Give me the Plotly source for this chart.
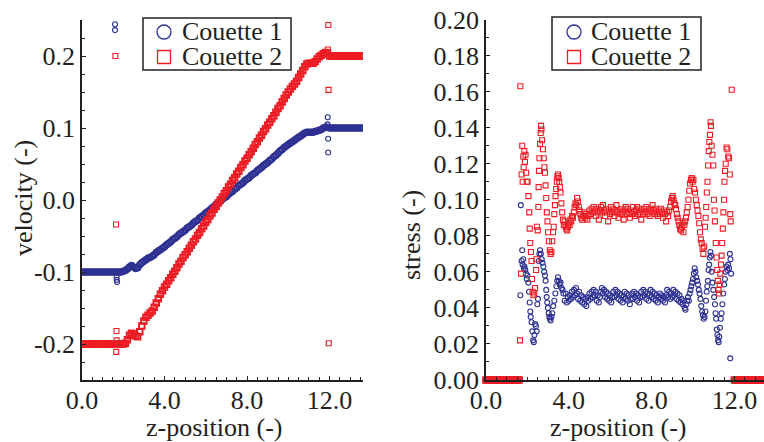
import plotly.graph_objects as go

# ---------------- data ----------------
# left panel: velocity profiles (z-position vs velocity)
z_vel = [0.0, 0.1, 0.2, 0.3, 0.4, 0.5, 0.6, 0.7, 0.8, 0.9,
         1.0, 1.1, 1.2, 1.3, 1.4, 1.5, 1.6, 1.7, 1.8, 1.9,
         2.0, 2.1, 2.2, 2.3, 2.4, 2.5, 2.6, 2.7, 2.8, 2.9,
         3.0, 3.1, 3.2, 3.3, 3.4, 3.5, 3.6, 3.7, 3.8, 3.9,
         4.0, 4.1, 4.2, 4.3, 4.4, 4.5, 4.6, 4.7, 4.8, 4.9,
         5.0, 5.1, 5.2, 5.3, 5.4, 5.5, 5.6, 5.7, 5.8, 5.9,
         6.0, 6.1, 6.2, 6.3, 6.4, 6.5, 6.6, 6.7, 6.8, 6.9,
         7.0, 7.1, 7.2, 7.3, 7.4, 7.5, 7.6, 7.7, 7.8, 7.9,
         8.0, 8.1, 8.2, 8.3, 8.4, 8.5, 8.6, 8.7, 8.8, 8.9,
         9.0, 9.1, 9.2, 9.3, 9.4, 9.5, 9.6, 9.7, 9.8, 9.9,
         10.0, 10.1, 10.2, 10.3, 10.4, 10.5, 10.6, 10.7, 10.8, 10.9,
         11.0, 11.1, 11.2, 11.3, 11.4, 11.5, 11.6, 11.7, 11.8, 11.9,
         12.0, 12.1, 12.2, 12.3, 12.4, 12.5, 12.6, 12.7, 12.8, 12.9,
         13.0, 13.1, 13.2, 13.3, 13.4, 13.5, 13.6]

vel_c1 = [-0.100, -0.100, -0.100, -0.100, -0.100, -0.100, -0.100, -0.100, -0.100, -0.100,
          -0.100, -0.100, -0.100, -0.100, -0.100, -0.100, -0.100, -0.100, -0.100, -0.100,
          -0.099, -0.098, -0.096, -0.093, -0.091, -0.093, -0.095, -0.094, -0.090, -0.087,
          -0.085, -0.083, -0.081, -0.080, -0.078, -0.076, -0.073, -0.071, -0.069, -0.067,
          -0.065, -0.062, -0.060, -0.058, -0.055, -0.053, -0.051, -0.048, -0.046, -0.044,
          -0.042, -0.039, -0.037, -0.035, -0.032, -0.030, -0.028, -0.025, -0.023, -0.021,
          -0.018, -0.016, -0.014, -0.011, -0.009, -0.006, -0.004, -0.002, 0.001, 0.003,
          0.005, 0.008, 0.010, 0.012, 0.015, 0.017, 0.020, 0.022, 0.024, 0.027,
          0.029, 0.031, 0.034, 0.036, 0.038, 0.041, 0.043, 0.045, 0.048, 0.050,
          0.052, 0.055, 0.057, 0.060, 0.062, 0.065, 0.068, 0.070, 0.073, 0.075,
          0.077, 0.079, 0.081, 0.083, 0.085, 0.087, 0.089, 0.091, 0.093, 0.094,
          0.094, 0.094, 0.094, 0.095, 0.096, 0.097, 0.098, 0.100, 0.101, 0.101,
          0.100, 0.100, 0.100, 0.100, 0.100, 0.100, 0.100, 0.100, 0.100, 0.100,
          0.100, 0.100, 0.100, 0.100, 0.100, 0.100, 0.100]

vel_c2 = [-0.200, -0.200, -0.200, -0.200, -0.200, -0.200, -0.200, -0.200, -0.200, -0.200,
          -0.200, -0.200, -0.200, -0.200, -0.200, -0.200, -0.200, -0.200, -0.200, -0.200,
          -0.200, -0.199, -0.194, -0.188, -0.185, -0.186, -0.189, -0.190, -0.183, -0.175,
          -0.168, -0.163, -0.160, -0.157, -0.154, -0.149, -0.143, -0.137, -0.131, -0.126,
          -0.121, -0.117, -0.112, -0.108, -0.103, -0.099, -0.094, -0.089, -0.085, -0.080,
          -0.076, -0.072, -0.067, -0.063, -0.058, -0.054, -0.049, -0.045, -0.040, -0.036,
          -0.031, -0.027, -0.022, -0.018, -0.013, -0.009, -0.004, 0.000, 0.004, 0.009,
          0.013, 0.018, 0.022, 0.027, 0.031, 0.036, 0.040, 0.045, 0.049, 0.054,
          0.058, 0.063, 0.067, 0.072, 0.077, 0.081, 0.086, 0.090, 0.095, 0.099,
          0.104, 0.108, 0.113, 0.117, 0.122, 0.127, 0.131, 0.136, 0.141, 0.146,
          0.150, 0.154, 0.158, 0.161, 0.165, 0.170, 0.175, 0.180, 0.185, 0.189,
          0.190, 0.190, 0.190, 0.192, 0.196, 0.199, 0.201, 0.203, 0.205, 0.204,
          0.200, 0.200, 0.200, 0.200, 0.200, 0.200, 0.200, 0.200, 0.200, 0.200,
          0.200, 0.200, 0.200, 0.200, 0.200, 0.200, 0.200]

# stray interface-bin points on the velocity panel
out_c1_z = [1.60, 1.60, 1.68, 1.68, 1.70, 11.91, 11.90, 11.93, 11.93]
out_c1_v = [0.244, 0.236, -0.107, -0.111, -0.114, 0.115, 0.105, 0.085, 0.066]
out_c2_z = [1.62, 1.65, 1.67, 1.68, 1.66, 11.94, 11.92, 11.95, 11.96]
out_c2_v = [0.200, -0.034, -0.182, -0.195, -0.211, 0.243, 0.209, 0.153, -0.199]

# right panel: stress profiles
wall_z = [0.0, 0.1, 0.2, 0.3, 0.4, 0.5, 0.6, 0.7, 0.8, 0.9, 1.0, 1.1, 1.2, 1.3, 1.4, 1.5, 1.6,
          12.0, 12.1, 12.2, 12.3, 12.4, 12.5, 12.6, 12.7, 12.8, 12.9, 13.0, 13.1, 13.2, 13.3, 13.4, 13.5, 13.6]
wall_s = [0.0, 0.0, 0.0, 0.0, 0.0, 0.0, 0.0, 0.0, 0.0, 0.0, 0.0, 0.0, 0.0, 0.0, 0.0, 0.0, 0.0,
          0.0, 0.0, 0.0, 0.0, 0.0, 0.0, 0.0, 0.0, 0.0, 0.0, 0.0, 0.0, 0.0, 0.0, 0.0, 0.0, 0.0]

str_c1_z = [1.66, 1.68, 1.72, 1.75, 1.77, 1.80, 1.83, 1.86, 1.90, 1.93,
            1.97, 2.00, 2.05, 2.08, 2.11, 2.14, 2.16, 2.20, 2.24, 2.28,
            2.31, 2.34, 2.37, 2.41, 2.45, 2.48, 2.51, 2.55, 2.58, 2.61,
            2.65, 2.69, 2.73, 2.77, 2.81, 2.85, 2.88, 2.91, 2.93, 2.96,
            2.99, 3.03, 3.06, 3.09, 3.12, 3.16, 3.20, 3.25, 3.30, 3.35,
            3.40, 3.44, 3.48, 3.52, 3.56, 3.60, 3.65, 3.70, 3.74,
            3.80, 3.85, 3.90, 3.95, 4.00, 4.05, 4.10, 4.15, 4.20, 4.25,
            4.30, 4.35, 4.40, 4.45, 4.50, 4.55, 4.60, 4.65, 4.70, 4.75,
            4.80, 4.85, 4.90, 4.95, 5.00, 5.05, 5.10, 5.15, 5.20, 5.25,
            5.30, 5.35, 5.40, 5.45, 5.50, 5.55, 5.60, 5.65, 5.70, 5.75,
            5.80, 5.85, 5.90, 5.95, 6.00, 6.05, 6.10, 6.15, 6.20, 6.25,
            6.30, 6.35, 6.40, 6.45, 6.50, 6.55, 6.60, 6.65, 6.70, 6.75,
            6.80, 6.85, 6.90, 6.95, 7.00, 7.05, 7.10, 7.15, 7.20, 7.25,
            7.30, 7.35, 7.40, 7.45, 7.50, 7.55, 7.60, 7.65, 7.70, 7.75,
            7.80, 7.85, 7.90, 7.95, 8.00, 8.05, 8.10, 8.15, 8.20, 8.25,
            8.30, 8.35, 8.40, 8.45, 8.50, 8.55, 8.60, 8.65, 8.70, 8.75,
            8.80, 8.85, 8.90, 8.95, 9.00, 9.05, 9.10, 9.15, 9.20, 9.25,
            9.30, 9.35, 9.40, 9.45, 9.50, 9.55,
            9.60, 9.64, 9.68, 9.72, 9.76, 9.80, 9.84, 9.88, 9.92, 9.96,
            10.00, 10.04, 10.08, 10.12, 10.16, 10.20, 10.24, 10.28, 10.32, 10.36,
            10.40, 10.44, 10.48, 10.52, 10.56, 10.60, 10.63, 10.66, 10.69, 10.72,
            10.75, 10.78, 10.81, 10.84, 10.87, 10.90, 10.94, 10.98, 11.02, 11.06,
            11.09, 11.12, 11.15, 11.18, 11.21, 11.24, 11.27, 11.30, 11.34, 11.38,
            11.42, 11.46, 11.50, 11.54, 11.58, 11.62, 11.66, 11.70, 11.74, 11.78,
            11.81, 11.84, 11.80]
str_c1_s = [0.047, 0.097, 0.066, 0.072, 0.064, 0.067, 0.062, 0.063, 0.061, 0.059,
            0.056, 0.058, 0.054, 0.049, 0.043, 0.038, 0.035, 0.032, 0.027, 0.022,
            0.021, 0.025, 0.031, 0.030, 0.027, 0.042, 0.045, 0.066, 0.070, 0.072,
            0.070, 0.067, 0.065, 0.063, 0.060, 0.058, 0.055, 0.050, 0.046, 0.043,
            0.040, 0.037, 0.035, 0.034, 0.033, 0.035, 0.037, 0.041, 0.044, 0.048,
            0.052, 0.055, 0.057, 0.055, 0.053, 0.054, 0.051, 0.050, 0.048,
            0.044, 0.048, 0.043, 0.046, 0.044, 0.047, 0.045, 0.049, 0.046, 0.050,
            0.047, 0.051, 0.048, 0.045, 0.049, 0.044, 0.047, 0.043, 0.046, 0.042,
            0.045, 0.041, 0.046, 0.044, 0.048, 0.045, 0.049, 0.046, 0.050, 0.047,
            0.049, 0.044, 0.047, 0.043, 0.046, 0.049, 0.051, 0.048, 0.050, 0.046,
            0.049, 0.045, 0.048, 0.044, 0.047, 0.043, 0.046, 0.049, 0.046, 0.050,
            0.047, 0.049, 0.045, 0.048, 0.044, 0.047, 0.043, 0.046, 0.049, 0.045,
            0.048, 0.044, 0.047, 0.042, 0.045, 0.048, 0.045, 0.049, 0.046, 0.048,
            0.044, 0.047, 0.043, 0.046, 0.049, 0.046, 0.050, 0.047, 0.049, 0.045,
            0.048, 0.044, 0.047, 0.050, 0.046, 0.049, 0.045, 0.048, 0.044, 0.047,
            0.043, 0.046, 0.048, 0.045, 0.047, 0.044, 0.046, 0.043, 0.047, 0.050,
            0.046, 0.049, 0.045, 0.048, 0.046, 0.050, 0.047, 0.049, 0.045, 0.048,
            0.044, 0.047, 0.043, 0.045, 0.042, 0.044,
            0.040, 0.039, 0.042, 0.044, 0.046, 0.044, 0.048, 0.050, 0.052, 0.054,
            0.056, 0.059, 0.062, 0.060, 0.057, 0.055, 0.053, 0.050, 0.048, 0.045,
            0.041, 0.038, 0.036, 0.034, 0.035, 0.038, 0.044, 0.049, 0.052, 0.055,
            0.061, 0.064, 0.068, 0.071, 0.069, 0.060, 0.054, 0.050, 0.046, 0.042,
            0.037, 0.034, 0.028, 0.025, 0.022, 0.021, 0.024, 0.029, 0.034, 0.037,
            0.042, 0.048, 0.053, 0.056, 0.060, 0.063, 0.061, 0.064, 0.062, 0.070,
            0.067, 0.059, 0.012]

str_c2_z = [1.64, 1.66, 1.69, 1.72, 1.75, 1.77, 1.80, 1.82, 1.85, 1.88,
            1.91, 1.94, 1.97, 2.01, 2.05, 2.09, 2.11, 2.14, 2.17, 2.20,
            2.22, 2.25, 2.29, 2.33, 2.37, 2.42, 2.44, 2.46, 2.50, 2.53,
            2.54, 2.56, 2.58, 2.61, 2.64, 2.66, 2.68, 2.71, 2.75, 2.79,
            2.82, 2.85, 2.88, 2.91, 2.94, 2.97, 3.00, 3.04, 3.08, 3.12,
            3.16, 3.20, 3.24, 3.27, 3.30, 3.33, 3.36, 3.39, 3.42, 3.45,
            3.48, 3.51, 3.54, 3.57, 3.60, 3.64, 3.68, 3.72, 3.76,
            3.80, 3.84, 3.88, 3.92, 3.96, 4.00, 4.04, 4.08, 4.12, 4.16,
            4.20, 4.24, 4.28, 4.32, 4.36, 4.40, 4.44, 4.48, 4.52, 4.56,
            4.60, 4.65, 4.70,
            4.75, 4.80, 4.85, 4.90, 4.95, 5.00, 5.05, 5.10, 5.15, 5.20,
            5.25, 5.30, 5.35, 5.40, 5.45, 5.50, 5.55, 5.60, 5.65, 5.70,
            5.75, 5.80, 5.85, 5.90, 5.95, 6.00, 6.05, 6.10, 6.15, 6.20,
            6.25, 6.30, 6.35, 6.40, 6.45, 6.50, 6.55, 6.60, 6.65, 6.70,
            6.75, 6.80, 6.85, 6.90, 6.95, 7.00, 7.05, 7.10, 7.15, 7.20,
            7.25, 7.30, 7.35, 7.40, 7.45, 7.50, 7.55, 7.60, 7.65, 7.70,
            7.75, 7.80, 7.85, 7.90, 7.95, 8.00, 8.05, 8.10, 8.15, 8.20,
            8.25, 8.30, 8.35, 8.40, 8.45, 8.50, 8.55, 8.60, 8.65, 8.70,
            8.75, 8.80, 8.85,
            8.90, 8.94, 8.98, 9.02, 9.06, 9.10, 9.14, 9.18, 9.22, 9.26,
            9.30, 9.34, 9.38, 9.42, 9.46, 9.50, 9.54, 9.58, 9.62, 9.66,
            9.70, 9.74, 9.78, 9.82, 9.86, 9.90, 9.94, 9.98, 10.02, 10.06,
            10.10, 10.14, 10.18, 10.22, 10.26, 10.30, 10.34, 10.38, 10.42, 10.46,
            10.50, 10.54, 10.58, 10.61, 10.64, 10.67, 10.70, 10.73, 10.76, 10.79,
            10.82, 10.85, 10.87, 10.90, 10.94, 10.98, 11.01, 11.04, 11.06, 11.10,
            11.14, 11.17, 11.20, 11.23, 11.26, 11.29, 11.32, 11.35, 11.38, 11.41,
            11.44, 11.47, 11.50, 11.52, 11.55, 11.58, 11.62, 11.66, 11.70, 11.74,
            11.78, 11.80, 11.82, 11.87]
str_c2_s = [0.022, 0.163, 0.059, 0.114, 0.130, 0.110, 0.124, 0.118, 0.127, 0.121,
            0.125, 0.115, 0.110, 0.110, 0.102, 0.093, 0.084, 0.076, 0.071, 0.066,
            0.056, 0.049, 0.047, 0.048, 0.051, 0.061, 0.067, 0.085, 0.083, 0.096,
            0.107, 0.116, 0.123, 0.131, 0.137, 0.141, 0.139, 0.133, 0.128, 0.123,
            0.118, 0.115, 0.108, 0.101, 0.093, 0.088, 0.082, 0.077, 0.072, 0.070,
            0.071, 0.077, 0.082, 0.085, 0.092, 0.097, 0.102, 0.106, 0.110, 0.113,
            0.114, 0.112, 0.110, 0.107, 0.104, 0.098, 0.093, 0.089, 0.086,
            0.088, 0.085, 0.084, 0.083, 0.085, 0.087, 0.086, 0.089, 0.088, 0.091,
            0.090, 0.093, 0.096, 0.098, 0.097, 0.101, 0.099, 0.096, 0.094, 0.092,
            0.090, 0.089, 0.091,
            0.093, 0.090, 0.092, 0.089, 0.091, 0.094, 0.092, 0.095, 0.093, 0.096,
            0.094, 0.091, 0.095, 0.093, 0.089, 0.094, 0.096, 0.093, 0.097, 0.094,
            0.091, 0.095, 0.093, 0.088, 0.094, 0.092, 0.096, 0.093, 0.095, 0.091,
            0.094, 0.097, 0.093, 0.090, 0.094, 0.092, 0.095, 0.093, 0.089, 0.094,
            0.096, 0.092, 0.095, 0.093, 0.090, 0.094, 0.092, 0.096, 0.093, 0.091,
            0.094, 0.096, 0.092, 0.095, 0.093, 0.089, 0.094, 0.092, 0.095, 0.093,
            0.096, 0.092, 0.094, 0.091, 0.095, 0.093, 0.097, 0.094, 0.092, 0.095,
            0.093, 0.091, 0.094, 0.092, 0.095, 0.093, 0.090, 0.094, 0.092, 0.088,
            0.093, 0.091, 0.094,
            0.096, 0.099, 0.101, 0.102, 0.100, 0.098, 0.097, 0.095, 0.092, 0.090,
            0.088, 0.086, 0.084, 0.083, 0.085, 0.087, 0.082, 0.086, 0.088, 0.090,
            0.093, 0.096, 0.100, 0.105, 0.109, 0.111, 0.112, 0.110, 0.111, 0.106,
            0.104, 0.100, 0.097, 0.094, 0.091, 0.087, 0.082, 0.078, 0.076, 0.073,
            0.070, 0.074, 0.085, 0.090, 0.096, 0.104, 0.110, 0.119, 0.127, 0.132,
            0.136, 0.143, 0.141, 0.130, 0.125, 0.119, 0.100, 0.094, 0.088, 0.076,
            0.068, 0.061, 0.055, 0.050, 0.048, 0.053, 0.059, 0.064, 0.069, 0.076,
            0.084, 0.093, 0.100, 0.110, 0.116, 0.120, 0.129, 0.128, 0.124, 0.123,
            0.114, 0.092, 0.088, 0.161]

y_ticks_vel = [-0.2, -0.1, 0.0, 0.1, 0.2]
y_ticks_vel_text = ['-0.2', '-0.1', '0.0', '0.1', '0.2']
x_ticks = [0, 4, 8, 12]
x_ticks_text = ['0.0', '4.0', '8.0', '12.0']
y_ticks_str = [0.0, 0.02, 0.04, 0.06, 0.08, 0.10, 0.12, 0.14, 0.16, 0.18, 0.20]
y_ticks_str_text = ['0.00', '0.02', '0.04', '0.06', '0.08', '0.10', '0.12', '0.14', '0.16', '0.18', '0.20']
series_names = ['Couette 1', 'Couette 2']

# ---------------- style ----------------
W, H = 764, 442
BLUE = '#2E3192'
RED = '#ED1C24'
INK = '#231F20'
FONT = 'Liberation Serif, Times New Roman, serif'


def fx(p):
    return p / W


def fy(p):
    return 1 - p / H


fig = go.Figure()

circ_big = dict(symbol='circle-open', size=5.5, color=BLUE, line=dict(width=2.0, color=BLUE))
sq_big = dict(symbol='square-open', size=5.5, color=RED, line=dict(width=2.0, color=RED))
circ = dict(symbol='circle-open', size=5, color=BLUE, line=dict(width=1.1, color=BLUE))
sq = dict(symbol='square-open', size=5, color=RED, line=dict(width=1.1, color=RED))

# left panel
fig.add_trace(go.Scatter(x=z_vel, y=vel_c1, mode='markers', marker=circ_big, name=series_names[0],
                         xaxis='x', yaxis='y', showlegend=False))
fig.add_trace(go.Scatter(x=out_c1_z, y=out_c1_v, mode='markers', marker=circ, name=series_names[0],
                         xaxis='x', yaxis='y', showlegend=False))
fig.add_trace(go.Scatter(x=z_vel, y=vel_c2, mode='markers', marker=sq_big, name=series_names[1],
                         xaxis='x', yaxis='y', showlegend=False))
fig.add_trace(go.Scatter(x=out_c2_z, y=out_c2_v, mode='markers', marker=sq, name=series_names[1],
                         xaxis='x', yaxis='y', showlegend=False))

# right panel
fig.add_trace(go.Scatter(x=wall_z, y=wall_s, mode='markers', marker=circ_big, name=series_names[0],
                         xaxis='x2', yaxis='y2', showlegend=False, cliponaxis=False))
fig.add_trace(go.Scatter(x=str_c1_z, y=str_c1_s, mode='markers', marker=circ, name=series_names[0],
                         xaxis='x2', yaxis='y2', showlegend=False))
fig.add_trace(go.Scatter(x=str_c2_z, y=str_c2_s, mode='markers', marker=sq, name=series_names[1],
                         xaxis='x2', yaxis='y2', showlegend=False))
fig.add_trace(go.Scatter(x=wall_z, y=wall_s, mode='markers', marker=sq_big, name=series_names[1],
                         xaxis='x2', yaxis='y2', showlegend=False, cliponaxis=False))

axis_common = dict(showline=True, linecolor=INK, linewidth=1.5, ticks='inside', tickcolor=INK,
                   tickwidth=1, ticklen=4, showgrid=False, zeroline=False, mirror=False,
                   automargin=False, tickfont=dict(family=FONT, size=26, color=INK))

fig.update_layout(
    width=W, height=H,
    margin=dict(l=0, r=0, t=0, b=0, autoexpand=False),
    paper_bgcolor='white', plot_bgcolor='white',
    showlegend=False,
    xaxis=dict(axis_common, domain=[fx(82), fx(363)], range=[0, 13.62], anchor='y',
               tickmode='array', tickvals=x_ticks, ticktext=x_ticks_text, ticklabelstandoff=-4,
               minor=dict(ticks='inside', tickmode='linear', tick0=0, dtick=0.5, ticklen=3,
                          tickcolor=INK, tickwidth=1)),
    yaxis=dict(axis_common, domain=[fy(380), fy(20)], range=[-0.25, 0.25], anchor='x',
               tickmode='array', tickvals=y_ticks_vel, ticktext=y_ticks_vel_text,
               minor=dict(ticks='inside', tickmode='linear', tick0=0, dtick=0.025, ticklen=3,
                          tickcolor=INK, tickwidth=1)),
    xaxis2=dict(axis_common, domain=[fx(486), 1.0], range=[0, 13.43], anchor='y2',
                tickmode='array', tickvals=x_ticks, ticktext=x_ticks_text, ticklabelstandoff=-4,
                minor=dict(ticks='inside', tickmode='linear', tick0=0, dtick=0.5, ticklen=3,
                           tickcolor=INK, tickwidth=1)),
    yaxis2=dict(axis_common, domain=[fy(380), fy(19.5)], range=[0, 0.2], anchor='x2',
                tickmode='array', tickvals=y_ticks_str, ticktext=y_ticks_str_text,
                minor=dict(ticks='inside', tickmode='linear', tick0=0, dtick=0.01, ticklen=3,
                           tickcolor=INK, tickwidth=1)),
)

# axis titles
title_font = dict(family=FONT, size=26, color=INK)
ann = [
    dict(text='z-position (-)', x=fx(214), y=fy(427), xref='paper', yref='paper',
         xanchor='center', yanchor='middle', showarrow=False, font=title_font),
    dict(text='z-position (-)', x=fx(618), y=fy(427), xref='paper', yref='paper',
         xanchor='center', yanchor='middle', showarrow=False, font=title_font),
    dict(text='velocity (-)', x=fx(24), y=fy(198), xref='paper', yref='paper', textangle=-90,
         xanchor='center', yanchor='middle', showarrow=False, font=title_font),
    dict(text='stress (-)', x=fx(411), y=fy(235), xref='paper', yref='paper', textangle=-90,
         xanchor='center', yanchor='middle', showarrow=False, font=title_font),
]

# legends drawn as boxes, symbols and text
shapes = []
for (bx0, by0, bx1, by1) in [(143, 18, 291, 70), (552, 17, 701, 70)]:
    shapes.append(dict(type='rect', xref='paper', yref='paper', x0=fx(bx0), x1=fx(bx1),
                       y0=fy(by1), y1=fy(by0), line=dict(color=INK, width=1.5),
                       fillcolor='white', layer='above'))
for (mx, tx) in [(164, 180), (574, 589)]:
    shapes.append(dict(type='circle', xref='paper', yref='paper', x0=fx(mx - 7), x1=fx(mx + 7),
                       y0=fy(32 + 7), y1=fy(32 - 7), line=dict(color=BLUE, width=1.3), layer='above'))
    shapes.append(dict(type='rect', xref='paper', yref='paper', x0=fx(mx - 6.5), x1=fx(mx + 6.5),
                       y0=fy(57 + 6.5), y1=fy(57 - 6.5), line=dict(color=RED, width=1.3), layer='above'))
    ann.append(dict(text=series_names[0], x=fx(tx), y=fy(32), xref='paper', yref='paper',
                    xanchor='left', yanchor='middle', showarrow=False, font=title_font))
    ann.append(dict(text=series_names[1], x=fx(tx), y=fy(57), xref='paper', yref='paper',
                    xanchor='left', yanchor='middle', showarrow=False, font=title_font))

fig.update_layout(annotations=ann, shapes=shapes)

fig.write_html('out.html', config={'displayModeBar': False},
               post_script="document.body.style.margin='0px';document.body.style.overflow='hidden';")
